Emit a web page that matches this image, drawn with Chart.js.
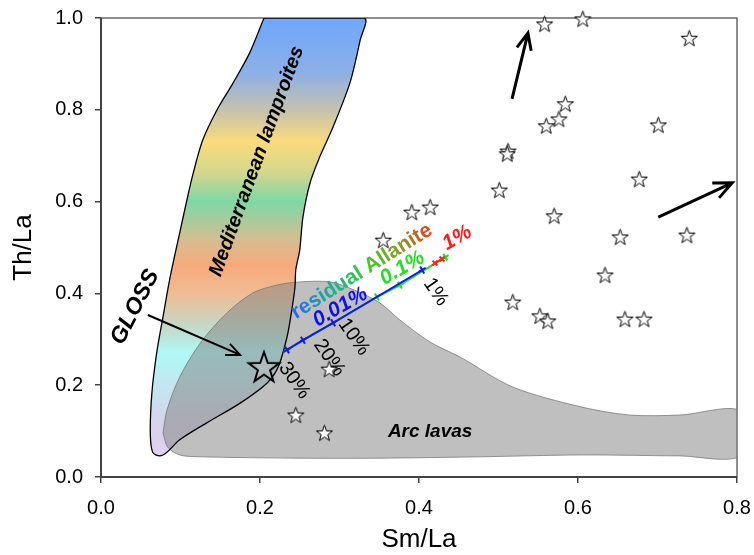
<!DOCTYPE html>
<html>
<head>
<meta charset="utf-8">
<script src="https://cdn.jsdelivr.net/npm/chart.js@4.4.1/dist/chart.umd.min.js"></script>
<style>
  html, body { margin: 0; padding: 0; background: #fff; }
</style>
</head>
<body>
<canvas id="c" width="754" height="555"></canvas>
<script>
const FONT = "'Liberation Sans', Arial, Helvetica, sans-serif";

// sample stars (Sm/La, Th/La)
const starX = [0.558, 0.606, 0.740, 0.584, 0.576, 0.560, 0.512, 0.511, 0.701, 0.501, 0.677, 0.570, 0.391,
               0.414, 0.355, 0.653, 0.737, 0.634, 0.518, 0.552, 0.562, 0.659, 0.683, 0.287, 0.245, 0.281];
const starY = [0.987, 0.998, 0.956, 0.813, 0.780, 0.765, 0.710, 0.704, 0.767, 0.625, 0.649, 0.569, 0.577,
               0.588, 0.516, 0.523, 0.527, 0.440, 0.381, 0.351, 0.340, 0.344, 0.344, 0.235, 0.135, 0.096];

// GLOSS composition
const glossX = [0.205];
const glossY = [0.240];

// Mediterranean lamproites field outline
const lampX = [0.205, 0.331, 0.326, 0.313, 0.292, 0.275, 0.263, 0.254, 0.250, 0.245, 0.244, 0.240, 0.234, 0.223,
               0.209, 0.175, 0.133, 0.099, 0.083, 0.074, 0.065, 0.062, 0.064, 0.070, 0.078, 0.087, 0.099,
               0.108, 0.116, 0.128, 0.146, 0.166, 0.187, 0.205];
const lampY = [1.000, 1.000, 0.952, 0.858, 0.763, 0.697, 0.641, 0.566, 0.495, 0.451, 0.414, 0.364, 0.305, 0.240,
               0.205, 0.161, 0.118, 0.081, 0.054, 0.046, 0.054, 0.096, 0.183, 0.270, 0.349, 0.436, 0.532,
               0.603, 0.662, 0.734, 0.800, 0.858, 0.924, 1.000];

// Arc lavas field outline
const arcX = [0.078, 0.083, 0.099, 0.125, 0.158, 0.191, 0.221, 0.250, 0.288, 0.319, 0.351, 0.376, 0.414, 0.452,
              0.518, 0.603, 0.665, 0.728, 0.804, 0.804, 0.728, 0.603, 0.477, 0.351, 0.250, 0.125, 0.099, 0.084, 0.078];
const arcY = [0.096, 0.146, 0.218, 0.292, 0.357, 0.401, 0.418, 0.425, 0.425, 0.407, 0.379, 0.342, 0.294, 0.261,
              0.196, 0.153, 0.135, 0.135, 0.144, 0.046, 0.046, 0.048, 0.044, 0.041, 0.041, 0.044, 0.048, 0.065, 0.096];

// residual allanite mixing curves
const mix001X = [0.234, 0.254, 0.292, 0.404];
const mix001Y = [0.277, 0.298, 0.336, 0.451];
const mix01X = [0.234, 0.347, 0.376, 0.433];
const mix01Y = [0.277, 0.392, 0.418, 0.479];
const mix1X = [0.420, 0.429];
const mix1Y = [0.466, 0.475];

const xTicks = [0.0, 0.2, 0.4, 0.6, 0.8];
const yTicks = [0.0, 0.2, 0.4, 0.6, 0.8, 1.0];

const pts = (xs, ys) => xs.map((x, i) => ({ x, y: ys[i] }));

function starImage(r, lw, fill) {
  const s = Math.ceil(2 * r + 2 * lw + 2);
  const c = document.createElement("canvas");
  c.width = s; c.height = s;
  const g = c.getContext("2d");
  g.translate(s / 2, s / 2 + r * 0.08);
  g.beginPath();
  for (let i = 0; i < 10; i++) {
    const rr = i % 2 ? r * 0.4 : r;
    const a = -Math.PI / 2 + i * Math.PI / 5;
    g.lineTo(rr * Math.cos(a), rr * Math.sin(a));
  }
  g.closePath();
  g.fillStyle = fill; g.fill();
  g.lineWidth = lw; g.strokeStyle = "#000"; g.lineJoin = "miter"; g.stroke();
  return c;
}

const lampStops = [
  [1.00, "#6ea6ff"], [0.88, "#8db0e6"], [0.80, "#c4c2ae"], [0.73, "#fadb7c"], [0.66, "#d2d68e"],
  [0.60, "#7ed8a6"], [0.52, "#d3be92"], [0.46, "#f8a97c"], [0.40, "#f0bc94"], [0.33, "#c5d8c6"],
  [0.27, "#aef8f6"], [0.20, "#c4e6f0"], [0.12, "#d6d4ea"], [0.04, "#e0cff0"]
];

function lampGradient(ctx) {
  const chart = ctx.chart;
  const a = chart.chartArea;
  if (!a) return "#aaa";
  const ys = chart.scales.y;
  const g = chart.ctx.createLinearGradient(0, a.top, 0, a.bottom);
  lampStops.forEach(([v, c]) => {
    const p = (ys.getPixelForValue(v) - a.top) / (a.bottom - a.top);
    g.addColorStop(Math.min(1, Math.max(0, p)), c);
  });
  return g;
}

const texts = [
  { t: "Mediterranean lamproites", x: 0.196, y: 0.688, rot: -70, font: "italic bold 20px", color: "#000" },
  { t: "GLOSS", x: 0.043, y: 0.370, rot: -63, font: "italic bold 23px", color: "#000" },
  { t: "Arc lavas", x: 0.414, y: 0.098, rot: 0, font: "italic bold 19px", color: "#000" },
  { t: "residual Allanite", x: 0.328, y: 0.448, rot: -32, font: "bold 21px", color: "grad" },
  { t: "0.01%", x: 0.301, y: 0.370, rot: -30, font: "italic bold 21px", color: "#1010ee" },
  { t: "0.1%", x: 0.379, y: 0.455, rot: -30, font: "italic bold 21px", color: "#22e022" },
  { t: "1%", x: 0.448, y: 0.521, rot: -30, font: "italic bold 21px", color: "#ff1a1a" },
  { t: "1%", x: 0.421, y: 0.403, rot: 55, font: "20px", color: "#000" },
  { t: "10%", x: 0.318, y: 0.305, rot: 55, font: "20px", color: "#000" },
  { t: "20%", x: 0.287, y: 0.260, rot: 55, font: "20px", color: "#000" },
  { t: "30%", x: 0.243, y: 0.210, rot: 55, font: "20px", color: "#000" }
];

const arrows = [
  { x1: 0.059, y1: 0.353, x2: 0.175, y2: 0.266, w: 2, head: 15 },
  { x1: 0.517, y1: 0.824, x2: 0.537, y2: 0.967, w: 3, head: 18 },
  { x1: 0.701, y1: 0.566, x2: 0.794, y2: 0.641, w: 3, head: 20 }
];

const annotations = {
  id: "annotations",
  beforeDatasetsDraw(chart) {
    const { ctx, chartArea: a } = chart;
    ctx.save();
    ctx.strokeStyle = "#444";
    ctx.lineWidth = 1.2;
    ctx.strokeRect(a.left, a.top, a.right - a.left, a.bottom - a.top);
    ctx.lineWidth = 2;
    ctx.beginPath();
    ctx.moveTo(a.left, a.top); ctx.lineTo(a.left, a.bottom); ctx.lineTo(a.right, a.bottom);
    ctx.stroke();
    ctx.restore();
  },
  afterDatasetDraw(chart, args) {
    if (chart.data.datasets[args.index].label !== "Allanite 0.01%") return;
    const { ctx, scales: { x, y } } = chart;
    ctx.save();
    arrows.forEach(ar => {
      const x1 = x.getPixelForValue(ar.x1), y1 = y.getPixelForValue(ar.y1);
      const x2 = x.getPixelForValue(ar.x2), y2 = y.getPixelForValue(ar.y2);
      const ang = Math.atan2(y2 - y1, x2 - x1);
      ctx.strokeStyle = "#000"; ctx.lineWidth = ar.w; ctx.lineCap = "butt";
      ctx.beginPath();
      ctx.moveTo(x1, y1); ctx.lineTo(x2, y2);
      ctx.moveTo(x2 - ar.head * Math.cos(ang - 0.42), y2 - ar.head * Math.sin(ang - 0.42));
      ctx.lineTo(x2, y2);
      ctx.lineTo(x2 - ar.head * Math.cos(ang + 0.42), y2 - ar.head * Math.sin(ang + 0.42));
      ctx.stroke();
    });
    texts.forEach(tx => {
      ctx.save();
      ctx.translate(x.getPixelForValue(tx.x), y.getPixelForValue(tx.y));
      ctx.rotate(tx.rot * Math.PI / 180);
      ctx.font = tx.font + " " + FONT;
      ctx.textAlign = "center";
      ctx.textBaseline = "middle";
      if (tx.color === "grad") {
        const w = ctx.measureText(tx.t).width;
        const g = ctx.createLinearGradient(-w / 2, 0, w / 2, 0);
        g.addColorStop(0, "#2a66f0");
        g.addColorStop(0.3, "#1eb48c");
        g.addColorStop(0.55, "#3ccc2a");
        g.addColorStop(0.78, "#8c9a24");
        g.addColorStop(1, "#f0381e");
        ctx.fillStyle = g;
      } else {
        ctx.fillStyle = tx.color;
      }
      ctx.fillText(tx.t, 0, 0);
      ctx.restore();
    });
    ctx.restore();
  }
};

new Chart(document.getElementById("c"), {
  type: "scatter",
  data: {
    datasets: [
      {
        label: "Lamproites fill", type: "line", data: pts(lampX, lampY), order: 10,
        fill: "shape", backgroundColor: lampGradient, borderWidth: 0, pointRadius: 0, tension: 0.3
      },
      {
        label: "Arc lavas", type: "line", data: pts(arcX, arcY), order: 9,
        fill: "shape", backgroundColor: "rgba(128,128,128,0.5)", borderColor: "rgba(110,110,110,0.7)",
        borderWidth: 1, pointRadius: 0, tension: 0.3
      },
      {
        label: "Lamproites", type: "line", data: pts(lampX, lampY), order: 8,
        fill: false, borderColor: "#000", borderWidth: 1.3, pointRadius: 0, tension: 0.3
      },
      {
        label: "Allanite 0.1%", type: "line", data: pts(mix01X, mix01Y), order: 7,
        borderColor: "#22dd22", borderWidth: 2, tension: 0, fill: false,
        pointStyle: "cross", pointRadius: 4, pointBorderWidth: 2, pointBorderColor: "#22dd22", pointRotation: 60
      },
      {
        label: "Allanite 1%", type: "line", data: pts(mix1X, mix1Y), order: 6,
        borderColor: "#ff2020", borderWidth: 2, tension: 0, fill: false,
        pointStyle: "crossRot", pointRadius: 3.5, pointBorderWidth: 2, pointBorderColor: "#ff2020"
      },
      {
        label: "Allanite 0.01%", type: "line", data: pts(mix001X, mix001Y), order: 5,
        borderColor: "#1515ee", borderWidth: 2, tension: 0, fill: false,
        pointStyle: "cross", pointRadius: 4, pointBorderWidth: 2, pointBorderColor: "#1515ee", pointRotation: 60
      },
      {
        label: "GLOSS", data: pts(glossX, glossY), order: 4, clip: false,
        pointStyle: starImage(16, 2, "rgba(190,190,190,0.6)"), pointRadius: 16
      },
      {
        label: "Samples", data: pts(starX, starY), order: 3, clip: false,
        pointStyle: starImage(8.5, 1, "#fff"), pointRadius: 8
      }
    ]
  },
  options: {
    responsive: false,
    animation: false,
    events: [],
    layout: { padding: { top: 18, right: 16, left: 0, bottom: 0 } },
    plugins: { legend: { display: false }, tooltip: { enabled: false } },
    scales: {
      x: {
        type: "linear", min: 0, max: 0.8,
        afterBuildTicks: s => { s.ticks = xTicks.map(v => ({ value: v })); },
        afterFit: s => { s.height = 78; s.paddingLeft = 0; s.paddingRight = 0; },
        border: { display: false },
        grid: { drawOnChartArea: false, drawTicks: true, tickLength: 6, color: "#444", lineWidth: 1.5 },
        ticks: { color: "#000", padding: 13, font: { family: FONT, size: 20 }, callback: v => v.toFixed(1) },
        title: { display: true, text: "Sm/La", color: "#000", font: { family: FONT, size: 26 }, padding: { top: 0, bottom: 0 } }
      },
      y: {
        type: "linear", min: 0, max: 1,
        afterBuildTicks: s => { s.ticks = yTicks.map(v => ({ value: v })); },
        afterFit: s => { s.width = 101; s.paddingTop = 0; s.paddingBottom = 0; },
        border: { display: false },
        grid: { drawOnChartArea: false, drawTicks: true, tickLength: 6, color: "#444", lineWidth: 1.5 },
        ticks: { color: "#000", padding: 12, font: { family: FONT, size: 20 }, callback: v => v.toFixed(1) },
        title: { display: true, text: "Th/La", color: "#000", font: { family: FONT, size: 26 }, padding: { top: 8, bottom: 0 } }
      }
    }
  },
  plugins: [annotations]
});
</script>
</body>
</html>
